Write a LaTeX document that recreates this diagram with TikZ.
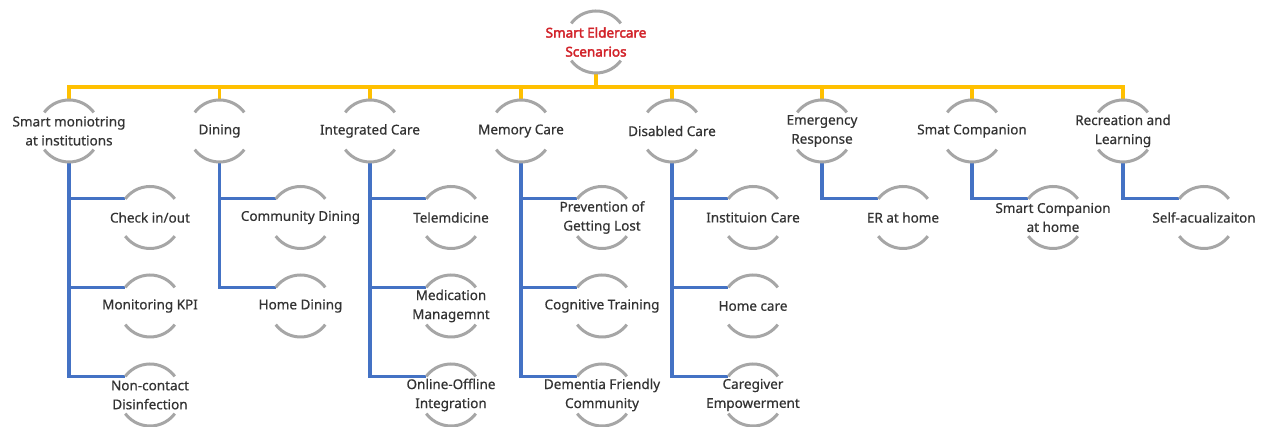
\documentclass[tikz,border=0pt]{standalone}
\usepackage{fontspec}
\setmainfont{Noto Sans}[FakeBold=0.5]
\newfontfamily\rootfont{Noto Sans}[FakeBold=2.6]
\usetikzlibrary{calc}
\definecolor{busgold}{HTML}{FFC000}
\definecolor{branchblue}{HTML}{4472C4}
\definecolor{arcgray}{HTML}{A6A6A6}
\definecolor{txtgray}{HTML}{333333}
\definecolor{rootred}{HTML}{D2232A}
\tikzset{
  lab/.style={rectangle, minimum height=62pt, inner sep=0pt, outer sep=0pt,
    align=center, text=txtgray, font=\fontsize{13.5}{19}\selectfont},
  rootlab/.style={lab, text=rootred, font=\rootfont\fontsize{13.5}{19}\selectfont},
  arcline/.style={draw=arcgray, line width=3pt},
  goldline/.style={draw=busgold, line width=3.2pt},
  blueline/.style={draw=branchblue, line width=3.2pt},
}
% the two grey brackets around a label
\newcommand{\bracketarcs}[1]{%
  \draw[arcline] ($(#1.center)+(143:31pt)$) arc[start angle=143, end angle=37, radius=31pt];
  \draw[arcline] ($(#1.center)+(217:31pt)$) arc[start angle=217, end angle=323, radius=31pt];}
% branch from a category to one of its items
\newcommand{\branch}[2]{%
  \draw[blueline] (#1.south) |- ($(#2.center)+(143:31pt)$);}
\begin{document}
\begin{tikzpicture}[x=1pt,y=1pt]
\useasboundingbox (0,0) rectangle (1262,427);
\fill[white] (0,0) rectangle (1262,427);

% root
\node[rootlab] (root) at (596,385) {Smart Eldercare\\Scenarios};
\coordinate (bus) at (596,340);

% categories
\node[lab] (c1) at (69,296)   {Smart moniotring\\at institutions};
\node[lab] (c2) at (219.5,296) {Dining};
\node[lab] (c3) at (370,296)  {Integrated Care};
\node[lab] (c4) at (521,296)  {Memory Care};
\node[lab] (c5) at (672,296)  {Disabled Care};
\node[lab] (c6) at (822,296)  {Emergency\\Response};
\node[lab] (c7) at (972,296)  {Smat Companion};
\node[lab] (c8) at (1123,296) {Recreation and\\Learning};

% items
\node[lab] (c1a) at (150,209.5)   {Check in/out};
\node[lab] (c1b) at (150,121) {Monitoring KPI};
\node[lab] (c1c) at (150,32)  {Non-contact\\Disinfection};
\node[lab] (c2a) at (300.5,209.5)   {Community Dining};
\node[lab] (c2b) at (300.5,121) {Home Dining};
\node[lab] (c3a) at (451,209.5)   {Telemdicine};
\node[lab] (c3b) at (451,121) {Medication\\Managemnt};
\node[lab] (c3c) at (451,32)  {Online-Offline\\Integration};
\node[lab] (c4a) at (602,209.5)   {Prevention of\\Getting Lost};
\node[lab] (c4b) at (602,121) {Cognitive Training};
\node[lab] (c4c) at (602,32)  {Dementia Friendly\\Community};
\node[lab] (c5a) at (753,209.5)   {Instituion Care};
\node[lab] (c5b) at (753,121) {Home care};
\node[lab] (c5c) at (753,32)  {Caregiver\\Empowerment};
\node[lab] (c6a) at (903,209.5)   {ER at home};
\node[lab] (c7a) at (1053,209.5)  {Smart Companion\\at home};
\node[lab] (c8a) at (1204,209.5)  {Self-acualizaiton};

% gold bus from the root to every category
\foreach \c in {c1,c2,c3,c4,c5,c6,c7,c8}
  \draw[goldline] (root.south) |- (bus) -| (\c.north);

% blue branches
\branch{c1}{c1c}\branch{c1}{c1b}\branch{c1}{c1a}
\branch{c2}{c2b}\branch{c2}{c2a}
\branch{c3}{c3c}\branch{c3}{c3b}\branch{c3}{c3a}
\branch{c4}{c4c}\branch{c4}{c4b}\branch{c4}{c4a}
\branch{c5}{c5c}\branch{c5}{c5b}\branch{c5}{c5a}
\branch{c6}{c6a}
\branch{c7}{c7a}
\branch{c8}{c8a}

% grey brackets
\foreach \n in {root,c1,c2,c3,c4,c5,c6,c7,c8,c1a,c1b,c1c,c2a,c2b,c3a,c3b,c3c,c4a,c4b,c4c,c5a,c5b,c5c,c6a,c7a,c8a}
  {\bracketarcs{\n}}
\end{tikzpicture}
\end{document}
